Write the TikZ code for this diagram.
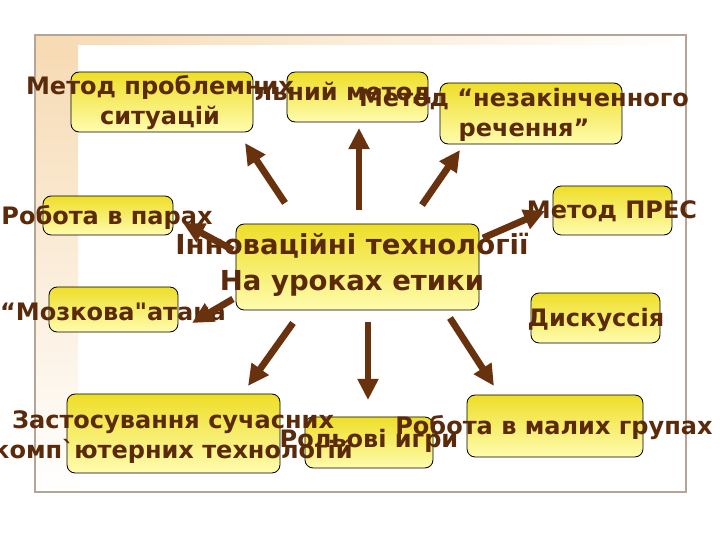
\documentclass[tikz,border=0pt]{standalone}
\usepackage{fontspec}
\newfontfamily\slidefont{DejaVu Sans}[Ligatures=TeXOff]
\usetikzlibrary{arrows.meta}
\definecolor{slidebrown}{RGB}{90,42,10}
\definecolor{arrbrown}{RGB}{105,50,15}
\definecolor{boxtop}{RGB}{238,222,40}
\definecolor{boxbot}{RGB}{255,252,175}
\definecolor{framegray}{RGB}{180,165,150}
\definecolor{peach}{RGB}{246,218,178}
\tikzset{
  ybox/.style={draw=black,line width=0.7pt,rounded corners=7pt,top color=boxtop,bottom color=boxbot,inner sep=0pt},
  lbl/.style={text=slidebrown,font=\slidefont\bfseries\fontsize{20.5}{25.5}\selectfont,align=center,inner sep=0pt},
  bigarr/.style={draw=arrbrown,line width=5.8pt,-{Triangle[length=18pt,width=17pt]}},
}

\begin{document}
\begin{tikzpicture}[x=0.03cm,y=-0.03cm]
  \useasboundingbox (0,0) rectangle (720,540);
  % slide frame
  \shade[top color=peach,bottom color=white] (35,35) rectangle (78,492);
  \shade[left color=peach,right color=white] (35,35) rectangle (686,45);
  \draw[framegray,line width=1.2pt] (35,35) rectangle (686,492);

  % top row
  \node[ybox,minimum width=4.23cm,minimum height=1.5cm] (indiv) at (357.5,97) {};
  \node[lbl,anchor=east] (indivtxt) at (432,94) {Індивідуальний метод};
  \node[ybox,minimum width=5.46cm,minimum height=1.8cm] (problem) at (162,102) {};
  \node[lbl] (problemtxt) at (160,103) {Метод проблемних\\ситуацій};
  \node[ybox,minimum width=5.46cm,minimum height=1.83cm] (sentence) at (531,113.5) {};
  \node[lbl] (sentencetxt) at (524,115) {Метод “незакінченного\\речення”};

  % middle
  \node[ybox,minimum width=3.9cm,minimum height=1.17cm] (pairs) at (108,215.5) {};
  \node[ybox,minimum width=3.87cm,minimum height=1.35cm] (brain) at (113.5,309.5) {};
  \node[ybox,minimum width=7.29cm,minimum height=2.58cm] (centre) at (357.5,267) {};
  \node[ybox,minimum width=3.57cm,minimum height=1.47cm] (press) at (612.5,210.5) {};
  \node[ybox,minimum width=3.87cm,minimum height=1.5cm] (discuss) at (595.5,318) {};
  \node[lbl] (pairstxt) at (107,217) {Робота в парах};
  \node[lbl] (braintxt) at (113,312) {“Мозкова"атака};
  \node[lbl,font=\slidefont\bfseries\fontsize{23.5}{30.5}\selectfont] (centretxt) at (352,265) {Інноваційні технології\\На уроках етики};
  \node[lbl] (presstxt) at (612,211) {Метод ПРЕС};
  \node[lbl] (discusstxt) at (596,320) {Дискуссія};

  % bottom row
  \node[ybox,minimum width=6.39cm,minimum height=2.37cm] (comp) at (173.5,433.5) {};
  \node[ybox,minimum width=3.84cm,minimum height=1.53cm] (roles) at (369,442.5) {};
  \node[ybox,minimum width=5.28cm,minimum height=1.86cm] (groups) at (555,426) {};
  \node[lbl] (comptxt) at (173,437) {Застосування сучасних\\комп`ютерних технологій};
  \node[lbl] (rolestxt) at (369,441) {Рольові игри};
  \node[lbl] (groupstxt) at (554,428) {Робота в малих групах};

  % arrows out of the centre
  \coordinate (s1) at (285,203); \coordinate (e1) at (245,143);
  \coordinate (s2) at (359,210); \coordinate (e2) at (359,128);
  \coordinate (s3) at (422,205); \coordinate (e3) at (460,150);
  \coordinate (s4) at (483,238); \coordinate (e4) at (545,211);
  \coordinate (s5) at (233,250); \coordinate (e5) at (183,223);
  \coordinate (s6) at (233,299); \coordinate (e6) at (192,323);
  \coordinate (s7) at (293,323); \coordinate (e7) at (248,386);
  \coordinate (s8) at (368,322); \coordinate (e8) at (368,400);
  \coordinate (s9) at (450,318); \coordinate (e9) at (494,386);
  \foreach \i in {1,...,9}
    \draw[bigarr] (s\i) -- (e\i);
\end{tikzpicture}
\end{document}
